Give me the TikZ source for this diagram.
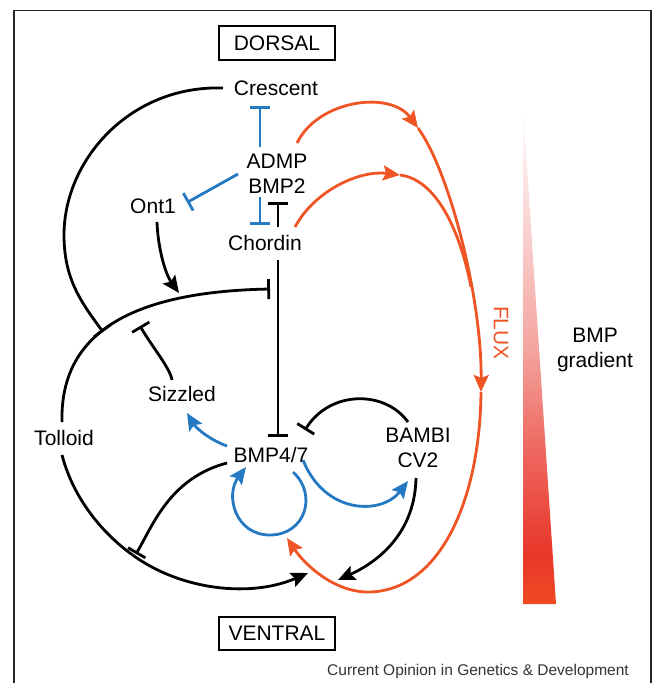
\documentclass[tikz,border=0pt]{standalone}
\usepackage{fontspec}
\setmainfont{Liberation Sans}
\usetikzlibrary{arrows.meta,calc}
\definecolor{bblue}{HTML}{2479C2}
\definecolor{fluxc}{HTML}{EF5425}
\definecolor{gza}{HTML}{EF4B23}
\definecolor{gzb}{HTML}{E8362A}
\definecolor{gzc}{HTML}{EE6A62}
\definecolor{gzd}{HTML}{F4A6A1}
\definecolor{gze}{HTML}{FADAD8}
\pgfdeclareverticalshading{bmpshade}{100bp}{color(0bp)=(gza); color(25bp)=(gza); color(30bp)=(gzb); color(41bp)=(gzc); color(51bp)=(gzd); color(65bp)=(gze); color(75bp)=(white); color(100bp)=(white)}
\begin{document}
\begin{tikzpicture}[x=1pt,y=-1pt,
  lbl/.style={font=\fontsize{21pt}{25pt}\selectfont, inner sep=0pt, align=center},
  boxlbl/.style={lbl, draw, line width=1.1pt, minimum width=116pt, minimum height=34pt},
  ln/.style={line width=2.8pt},
  inh/.style={ln, -{Bar[width=20pt]}},
  act/.style={ln, -{Stealth[length=17pt,width=15pt,inset=3pt]}},
]
\useasboundingbox (0,0) rectangle (653,683);
% frame
\draw[line width=1.2pt, black!85] (14,683) -- (14,10.5) -- (651,10.5) -- (651,683);

% nodes
\node[boxlbl] (dorsal) at (277,43) {DORSAL};
\node[boxlbl, minimum height=33pt] (ventral) at (277,633.5) {VENTRAL};
\node[lbl] (crescent) at (276,88) {Crescent};
\node[lbl] (admp) at (277,173.5) {ADMP\\BMP2};
\node[lbl] (ont1) at (153,206) {Ont1};
\node[lbl] (chordin) at (265,243) {Chordin};
\node[lbl] (sizzled) at (182,394) {Sizzled};
\node[lbl] (tolloid) at (64,438) {Tolloid};
\node[lbl] (bmp) at (271,455) {BMP4/7};
\node[lbl] (bambi) at (418,448) {BAMBI\\CV2};
\node[lbl, text=fluxc, rotate=-90] (fluxlbl) at (501,333) {FLUX};
\node[lbl] (bmpgrad) at (595,349.5) {BMP\\gradient};
\node[font=\fontsize{15.5pt}{18pt}\selectfont, text=black!80, inner sep=0pt] (credit) at (478,671.5) {Current Opinion in Genetics \& Development};

% gradient wedge
\shade[shading=bmpshade] (523,107) -- (556,604) -- (523,604) -- cycle;

% free ends
\coordinate (tolA) at (103,332);
\coordinate (tolB) at (140,326);
\coordinate (chlA) at (270,289);
\coordinate (tolC) at (136,554);
\coordinate (tolD) at (179,293);
\coordinate (vA) at (308,573);
\coordinate (vB) at (338,580);
\coordinate (fa) at (418,128);
\coordinate (fb) at (481,392);
\coordinate (fc) at (287,538);
\coordinate (fd) at (400,175);
\coordinate (fm) at (471,287);

% black connectors
\draw[inh] ($(crescent)+(-53,0)$) .. controls (130,85) and (64,160) .. (64,235) .. controls (64,280) and (82,303) .. (tolA);
\draw[inh] ($(sizzled)+(-10,-14)$) .. controls (170,368) and (153,348) .. (tolB);
\draw[inh] ($(tolloid)+(-2,-16)$) .. controls (60,340) and (120,292) .. (chlA);
\draw[act] ($(tolloid)+(-2,17)$) .. controls (75,505) and (112,545) .. (150,566) .. controls (195.6,591.2) and (255,596) .. (vA);
\draw[inh] ($(bmp)+(-44,8)$) .. controls (170,478) and (153,525) .. (tolC);
\draw[act] ($(ont1)+(4,16)$) .. controls (158,250) and (166,275) .. (tolD);
\draw[inh] ($(chordin)+(13,-16)$) -- ($(admp)+(1,28.5)$);
\draw[inh] ($(chordin)+(13,17)$) -- ($(bmp)+(7,-18)$);
\draw[inh] ($(bambi)+(-10,-26)$) .. controls (385,390) and (330,390) .. ($(bmp)+(34,-25)$);
\draw[act] ($(bambi)+(-2,30)$) .. controls (415,530) and (382,560) .. (vB);

% blue connectors
\draw[inh, bblue] ($(admp)+(-17,-26.5)$) -- ($(crescent)+(-16,18)$);
\draw[inh, bblue] ($(admp)+(-39,0.5)$) -- ($(ont1)+(34,-3.5)$);
\draw[inh, bblue] ($(admp)+(-17,23.5)$) -- ($(chordin)+(-5,-18)$);
\draw[act, bblue] ($(bmp)+(-44,-9)$) .. controls (210,440) and (196,428) .. ($(sizzled)+(5,19)$);
\draw[act, bblue] ($(bmp)+(22,17)$) .. controls (318,495) and (305,535) .. (270,535) .. controls (235,535) and (225,495) .. ($(bmp)+(-25,12)$);
\draw[act, bblue] ($(bmp)+(32,5)$) .. controls (325,515) and (382,515) .. ($(bambi)+(-10,33)$);

% orange flux
\draw[act, fluxc] ($(admp)+(20,-30.5)$) .. controls (318,100) and (390,90) .. (fa);
\draw[act, fluxc] (fa) .. controls (450,172) and (482,300) .. (fb);
\draw[act, fluxc] (fb) .. controls (480,500) and (440,590) .. (370,592) .. controls (335,593) and (305,565) .. (fc);
\draw[act, fluxc] ($(chordin)+(30,-16)$) .. controls (315,190) and (360,170) .. (fd);
\draw[ln, fluxc] (fd) .. controls (440,180) and (462,240) .. (fm);
\end{tikzpicture}
\end{document}
